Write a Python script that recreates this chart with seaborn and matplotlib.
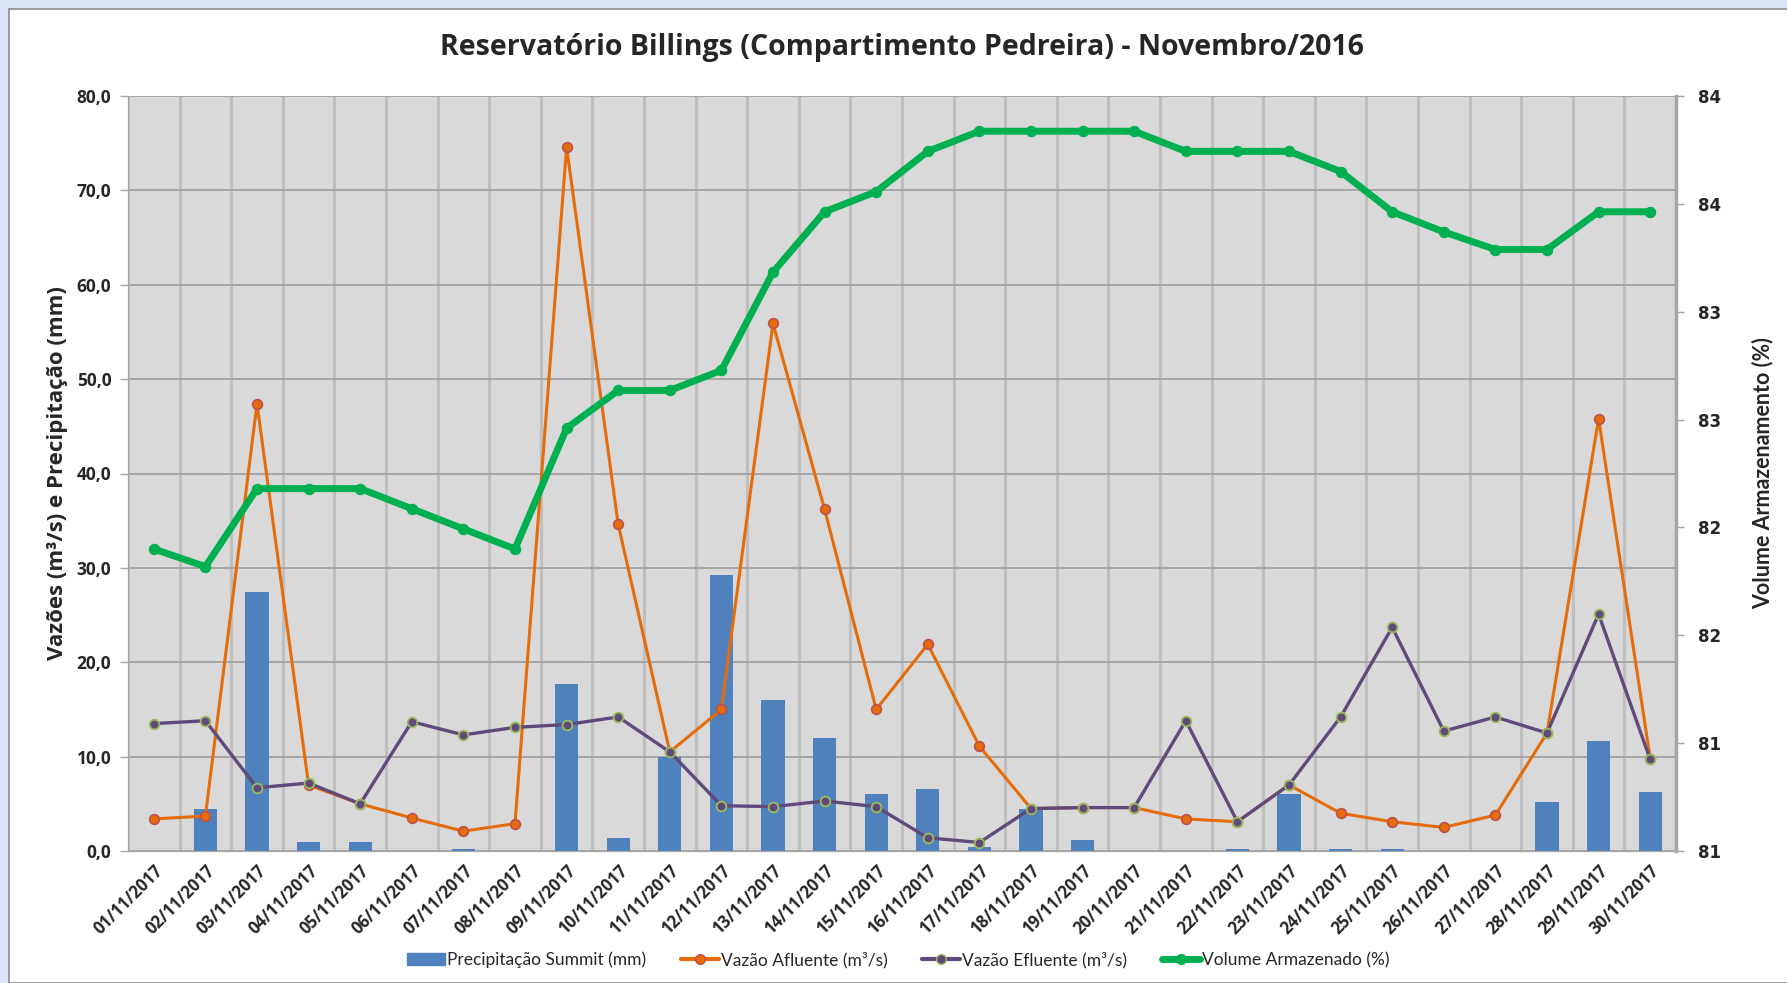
import numpy as np
import pandas as pd
import matplotlib
matplotlib.use("Agg")
import matplotlib.pyplot as plt
import matplotlib.patches as mpatches
from matplotlib.lines import Line2D
import seaborn as sns

# data
dates = [f"{d:02d}/11/2017" for d in range(1, 31)]
precip = [0, 4.5, 27.4, 1.0, 1.0, 0, 0.2, 0, 17.7, 1.4,
          10.0, 29.2, 16.0, 12.0, 6.0, 6.6, 0.4, 4.5, 1.2, 0,
          0, 0.2, 6.0, 0.2, 0.2, 0, 0, 5.2, 11.7, 6.3]
afluente = [3.4, 3.7, 47.4, 7.0, 5.0, 3.5, 2.1, 2.9, 74.6, 34.6,
            10.5, 15.0, 55.9, 36.2, 15.0, 21.9, 11.1, 4.5, 4.6, 4.6,
            3.4, 3.1, 7.0, 4.0, 3.1, 2.5, 3.8, 12.5, 45.8, 9.8]
efluente = [13.5, 13.8, 6.7, 7.2, 5.0, 13.7, 12.3, 13.1, 13.4, 14.2,
            10.5, 4.8, 4.7, 5.3, 4.7, 1.4, 0.9, 4.5, 4.6, 4.6,
            13.8, 3.1, 7.0, 14.2, 23.7, 12.7, 14.2, 12.5, 25.1, 9.7]
volume = [82.20, 82.13, 82.44, 82.44, 82.44, 82.36, 82.28, 82.20, 82.68, 82.83,
          82.83, 82.91, 83.30, 83.54, 83.62, 83.78, 83.86, 83.86, 83.86, 83.86,
          83.78, 83.78, 83.78, 83.70, 83.54, 83.46, 83.39, 83.39, 83.54, 83.54]

df = pd.DataFrame({"Data": dates, "Precip": precip, "Afluente": afluente,
                   "Efluente": efluente, "Volume": volume})

C_BAR = "#4f81bd"
C_AFL = "#e46c0a"
C_EFL = "#604a7b"
C_VOL = "#00b050"

sns.set_style("white")
plt.rcParams["font.family"] = ["Open Sans", "DejaVu Sans"]

fig = plt.figure(figsize=(17.87, 9.83), dpi=100, facecolor="#dae3f7")
# white chart area with grey border
fig.patches.append(mpatches.Rectangle((9 / 1787, 0), 1.0, 1 - 9 / 983,
                                      transform=fig.transFigure, facecolor="white",
                                      edgecolor="#8c8c8c", linewidth=1.2, zorder=-1))

ax = fig.add_axes([128 / 1787, 1 - 851 / 983, (1676 - 128) / 1787, (851 - 96) / 983])
ax.set_facecolor("#d9d9d9")

sns.barplot(data=df, x="Data", y="Precip", color=C_BAR, width=0.45,
            saturation=1, linewidth=0, ax=ax, zorder=2)
sns.lineplot(data=df, x="Data", y="Afluente", color=C_AFL, linewidth=2.2,
             marker="o", markersize=7, markerfacecolor=C_AFL,
             markeredgecolor="#c0504d", markeredgewidth=1.2, ax=ax, zorder=3)
sns.lineplot(data=df, x="Data", y="Efluente", color=C_EFL, linewidth=2.4,
             marker="o", markersize=7, markerfacecolor=C_EFL,
             markeredgecolor="#9bbb59", markeredgewidth=1.3, ax=ax, zorder=4)

ax.set_xlim(-0.5, len(dates) - 0.5)
ax.set_ylim(0, 80)
ax.set_yticks(np.arange(0, 81, 10))
ax.set_yticklabels([f"{v:.1f}".replace(".", ",") for v in np.arange(0, 81, 10)],
                   fontsize=12.5, fontweight="bold")
ax.set_xticks(range(len(dates)))
ax.set_xticklabels(dates, rotation=45, ha="right", rotation_mode="anchor",
                   fontsize=12, fontweight="bold")
ax.set_xticks(np.arange(-0.5, len(dates), 1), minor=True)
ax.tick_params(axis="x", which="major", length=0, pad=8)
ax.tick_params(axis="x", which="minor", length=6, color="#a6a6a6", width=1)
ax.tick_params(axis="y", length=6, color="#a6a6a6", width=1, pad=6)
ax.grid(False)
ax.grid(axis="x", which="minor", color="#bfbfbf", linewidth=2.2, zorder=0)
ax.grid(axis="y", which="major", color="#a6a6a6", linewidth=1.4, zorder=0)
ax.set_axisbelow(True)
ax.set_xlabel("")
ax.set_ylabel("Vazões (m³/s) e Precipitação (mm)", fontsize=16,
              fontweight="bold", labelpad=6)
for s in ax.spines.values():
    s.set_color("#a6a6a6")
ax.spines["top"].set_visible(False)

ax2 = ax.twinx()
sns.lineplot(data=df, x="Data", y="Volume", color=C_VOL, linewidth=5,
             marker="o", markersize=7.5, markerfacecolor=C_VOL,
             markeredgecolor=C_VOL, ax=ax2, zorder=5)
ax2.set_ylim(81, 84)
rt = np.linspace(81, 84, 8)
ax2.set_yticks(rt)
ax2.set_yticklabels([f"{v:.0f}" for v in rt], fontsize=12, fontweight="bold",
                    family=["DejaVu Sans"])
ax2.tick_params(axis="y", length=6, color="#a6a6a6", width=1, pad=10)
ax2.set_ylabel("Volume Armazenamento (%)", fontsize=15.5, fontweight="bold",
               family=["Lato", "DejaVu Sans"], labelpad=22)
ax2.set_xlim(-0.5, len(dates) - 0.5)
ax2.set_xlabel("")
for s in ax2.spines.values():
    s.set_color("#a6a6a6")
ax2.spines["top"].set_visible(False)
ax2.spines["right"].set_linewidth(2.5)

fig.text(0.5 * (128 + 1676) / 1787, 1 - 48 / 983,
         "Reservatório Billings (Compartimento Pedreira) - Novembro/2016",
         ha="center", va="center", fontsize=20.5, fontweight="bold")

handles = [
    mpatches.Patch(color=C_BAR, label="Precipitação Summit (mm)"),
    Line2D([], [], color=C_AFL, lw=3, marker="o", markersize=7,
           markerfacecolor=C_AFL, markeredgecolor="#c0504d", label="Vazão Afluente (m³/s)"),
    Line2D([], [], color=C_EFL, lw=3, marker="o", markersize=7,
           markerfacecolor=C_EFL, markeredgecolor="#9bbb59", label="Vazão Efluente (m³/s)"),
    Line2D([], [], color=C_VOL, lw=5, marker="o", markersize=7,
           markerfacecolor=C_VOL, markeredgecolor=C_VOL, label="Volume Armazenado (%)"),
]
if ax2.get_legend():
    ax2.get_legend().remove()
if ax.get_legend():
    ax.get_legend().remove()
fig.legend(handles=handles, loc="center", bbox_to_anchor=(898 / 1787, 1 - 960 / 983),
           ncol=4, frameon=False, handlelength=2.2,
           handletextpad=0.1, columnspacing=2.0,
           prop={"family": ["Lato", "DejaVu Sans"], "size": 12.5})

fig.savefig("out.png", dpi=100, facecolor=fig.get_facecolor())
